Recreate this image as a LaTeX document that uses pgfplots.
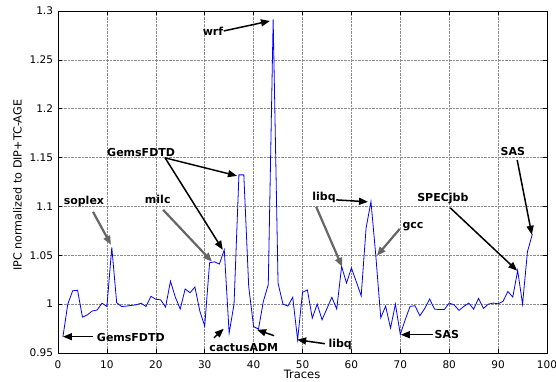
\documentclass[border=0pt]{standalone}
\usepackage{fontspec}
\setmainfont{DejaVu Sans}
\usepackage{pgfplots}
\pgfplotsset{compat=1.18}
\usetikzlibrary{arrows.meta}
\tikzset{
  ann/.style={font=\bfseries\fontsize{11}{13}\selectfont, inner sep=0pt, anchor=center},
  arr/.style={-{Triangle[length=9pt,width=7pt]}, line width=1.5pt, black},
  garr/.style={-{Triangle[length=9pt,width=7pt]}, line width=2.2pt, black!60},
}
\begin{document}
\begin{tikzpicture}
\begin{axis}[
  at={(0,0)}, anchor=south west,
  scale only axis, width=489pt, height=342pt,
  xmin=0, xmax=100, ymin=0.95, ymax=1.3,
  xtick={0,10,...,100},
  xticklabels={0,10,20,30,40,50,60,70,80,90,100},
  ytick={0.95,1,1.05,1.1,1.15,1.2,1.25,1.3},
  yticklabels={0.95,1,1.05,1.1,1.15,1.2,1.25,1.3},
  /pgf/number format/assume math mode=true,
  ticklabel style={font=\fontsize{10.5}{12}\selectfont},
  xticklabel style={yshift=-4pt},
  yticklabel style={xshift=-1.5pt},
  tick align=inside, major tick length=4pt,
  tick style={black, line width=0.6pt},
  axis line style={black, line width=0.8pt},
  grid=major, major grid style={densely dotted, black!45, line width=0.5pt},
  clip mode=individual,
  xlabel={Traces}, ylabel={IPC normalized to DIP+TC-AGE},
  every axis x label/.style={at={(axis description cs:0.499,-0.0625)}, anchor=center, inner sep=0pt, font=\fontsize{11.5}{13}\selectfont},
  every axis y label/.style={at={(axis description cs:-0.0828,0.49)}, anchor=center, rotate=90, inner sep=0pt, font=\fontsize{11.2}{13}\selectfont},
]
\addplot[blue, line width=0.8pt, no markers] coordinates {
(1,0.9663) (2,1.000) (3,1.0137) (4,1.0142) (5,0.9867) (6,0.989) (7,0.993) (8,0.994) (9,1.001) (10,0.9976)
(11,1.058) (12,1.0015) (13,0.9976) (14,0.998) (15,0.9987) (16,0.9993) (17,1.001) (18,0.9976) (19,1.008) (20,1.005)
(21,1.0044) (22,0.997) (23,1.0235) (24,1.007) (25,0.995) (26,1.0155) (27,1.0117) (28,1.0175) (29,0.993) (30,0.9775)
(31,1.0423) (32,1.0433) (33,1.041) (34,1.0556) (35,0.9704) (36,1.000) (37,1.1323) (38,1.1323) (39,1.018) (40,0.977)
(41,0.9745) (42,1.003) (43,1.020) (44,1.2915) (45,1.0215) (46,1.000) (47,0.998) (48,1.007) (49,0.9636) (50,1.012)
(51,1.0145) (52,0.9857) (53,1.000) (54,0.984) (55,0.9955) (56,1.007) (57,0.995) (58,1.0386) (59,1.0215) (60,1.037)
(61,1.023) (62,1.0085) (63,1.0778) (64,1.105) (65,1.049) (66,0.986) (67,0.998) (68,0.9755) (69,1.000) (70,0.969)
(71,0.984) (72,0.9977) (73,0.9984) (74,0.9881) (75,0.9956) (76,1.0052) (77,0.9949) (78,0.9945) (79,0.9945) (80,1.0011)
(81,0.9993) (82,0.9936) (83,0.9977) (84,1.0011) (85,0.9949) (86,1.0059) (87,0.9956) (88,1.000) (89,1.0011) (90,1.0004)
(91,1.0028) (92,1.013) (93,1.0072) (94,1.0345) (95,1.000) (96,1.0536) (97,1.0716)
};
% annotations
\node[ann] at (31.7,1.2796) {wrf};
\draw[arr] (33.9,1.2796) -- (43.35,1.2898);
\node[ann] at (17.0,1.1548) {GemsFDTD};
\draw[arr] (21.9,1.1497) -- (36.6,1.1313);
\draw[arr] (21.9,1.1497) -- (33.7,1.0556);
\node[ann] at (5.3,1.1047) {soplex};
\draw[garr] (7.16,1.0945) -- (10.84,1.0607);
\node[ann] at (20.4,1.1067) {milc};
\draw[garr] (21.5,1.0965) -- (31.5,1.0434);
\node[ann] at (14.9,0.9656) {GemsFDTD};
\draw[arr] (7.16,0.9667) -- (1.02,0.9667);
\node[ann] at (38.0,0.9554) {cactusADM};
\draw[arr] (31.9,0.9656) -- (33.9,0.9748);
\draw[arr] (44.2,0.9677) -- (40.7,0.9738);
\node[ann] at (57.7,0.9585) {libq};
\draw[arr] (54.6,0.9595) -- (48.9,0.9636);
\node[ann] at (54.4,1.1088) {libq};
\draw[arr] (56.9,1.1067) -- (63.4,1.1047);
\draw[garr] (52.8,1.0996) -- (58.1,1.0382);
\node[ann] at (72.6,1.0791) {gcc};
\draw[garr] (69.9,1.0771) -- (65.2,1.0495);
\node[ann] at (79.5,0.9687) {SAS};
\draw[arr] (76.7,0.9687) -- (70.1,0.9687);
\node[ann] at (78.7,1.1078) {SPECjbb};
\draw[arr] (80.2,1.0986) -- (93.9,1.0342);
\node[ann] at (93.0,1.1558) {SAS};
\draw[arr] (93.9,1.1476) -- (96.9,1.071);
\end{axis}
\pgfresetboundingbox
\useasboundingbox (-58pt,-28pt) rectangle (498pt,353pt);
\end{tikzpicture}
\end{document}
